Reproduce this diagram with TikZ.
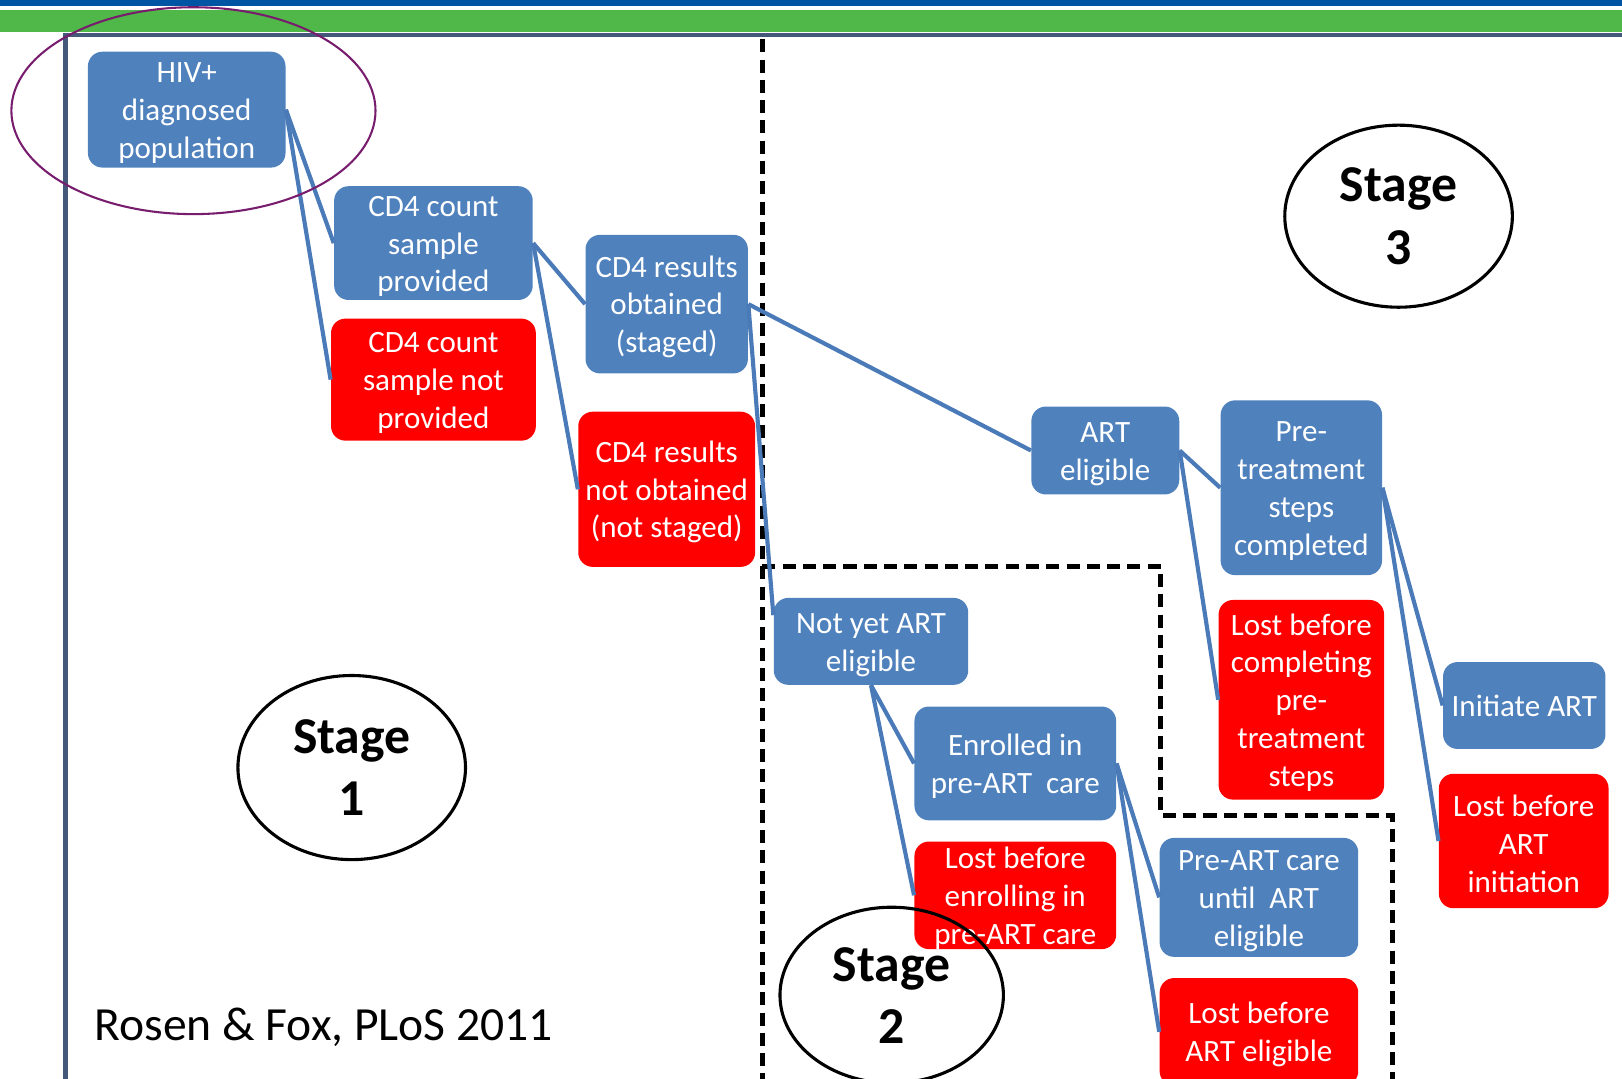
\documentclass[tikz,border=0pt]{standalone}
\usepackage{fontspec}
\setmainfont{Carlito}
\usetikzlibrary{calc,shapes.geometric}
\definecolor{barblue}{RGB}{0,84,164}
\definecolor{bargreen}{RGB}{80,184,72}
\definecolor{framec}{RGB}{68,89,122}
\definecolor{boxblue}{RGB}{79,129,189}
\definecolor{boxred}{RGB}{255,0,0}
\definecolor{linkblue}{RGB}{74,122,184}
\definecolor{ringpurple}{RGB}{120,28,110}
% taller first line so the box text sits a little lower
\newcommand{\boxstrut}{\rule{0pt}{13pt}}
\begin{document}
\begin{tikzpicture}[x=0.5pt,y=-0.5pt,
  box/.style={rounded corners=7pt, align=center, text=white, inner sep=0pt,
    font=\fontsize{15}{18.3}\selectfont},
  bluebox/.style={box, fill=boxblue},
  redbox/.style={box, fill=boxred},
  link/.style={draw=linkblue, line width=2pt},
  sep/.style={draw=black, line width=2.4pt, dash pattern=on 6.3pt off 3.5pt},
  stagering/.style={ellipse, draw=black, line width=1.5pt, inner sep=0pt, align=center,
    font=\fontsize{25}{30}\selectfont\bfseries}
]
\useasboundingbox (0,0) rectangle (1568,1043);
\clip (0,0) rectangle (1568,1043);

% header bars and frame
\fill[barblue] (0,0) rectangle (1568,5.5);
\fill[bargreen] (0,9.5) rectangle (1568,31);
\draw[framec, line width=2.2pt] (63.5,1050) -- (63.5,34) -- (1568,34);

% stage separators
\draw[sep] (737,38) -- (737,1050);
\draw[sep] (737,548) -- (1122,548) -- (1122,788) -- (1346,788) -- (1346,1050);

% stage 1 boxes
\node[bluebox, minimum width=95.5pt, minimum height=56pt] (hiv) at (180.5,106) {\boxstrut HIV+\\diagnosed\\population};
\node[bluebox, minimum width=96pt, minimum height=55pt] (cs) at (419,235) {\boxstrut CD4 count\\sample\\provided};
\node[redbox, minimum width=99pt, minimum height=59pt] (cns) at (419,367) {\boxstrut CD4 count\\sample not\\provided};
\node[bluebox, minimum width=78.5pt, minimum height=67pt] (ro) at (644.5,294) {\boxstrut CD4 results\\obtained\\(staged)};
\node[redbox, minimum width=85.5pt, minimum height=75pt] (rno) at (644.5,473) {\boxstrut CD4 results\\not obtained\\(not staged)};

% stage 3 boxes
\node[bluebox, minimum width=71.5pt, minimum height=42.5pt] (arte) at (1068.5,435.5) {\boxstrut ART\\eligible};
\node[bluebox, minimum width=78pt, minimum height=84.5pt] (ptc) at (1258,471.5) {\boxstrut Pre-\\treatment\\steps\\completed};
\node[redbox, minimum width=80pt, minimum height=96.5pt] (lbc) at (1258,676.5) {\boxstrut Lost before\\completing\\pre-\\treatment\\steps};
\node[bluebox, minimum width=78.5pt, minimum height=42pt] (ini) at (1473.5,682) {Initiate ART};
\node[redbox, minimum width=82pt, minimum height=65pt] (lbi) at (1473,813) {\boxstrut Lost before\\ART\\initiation};

% stage 2 boxes
\node[bluebox, minimum width=94pt, minimum height=42pt] (noty) at (842,620) {\boxstrut Not yet ART\\eligible};
\node[bluebox, minimum width=97.5pt, minimum height=55pt] (enr) at (981.5,738) {\boxstrut Enrolled in\\pre-ART\ \ care};
\node[redbox, minimum width=97.5pt, minimum height=50.5pt] (lbe) at (981.5,865.5) {\boxstrut Lost before\\enrolling in\\pre-ART care};
\node[bluebox, minimum width=96pt, minimum height=57.5pt] (pac) at (1217,867.5) {\boxstrut Pre-ART care\\until\ \ ART\\eligible};
\node[redbox, minimum width=96pt, minimum height=52pt] (lbae) at (1217,997.5) {\boxstrut Lost before\\ART eligible};

% branching connectors
\draw[link] (hiv.east) -- (cs.west);
\draw[link] (hiv.east) -- (cns.west);
\draw[link] (cs.east) -- (ro.west);
\draw[link] (cs.east) -- (rno.west);
\draw[link] (ro.east) -- (arte.west);
\draw[link] (ro.east) -- (noty.165);
\draw[link] (arte.east) -- (ptc.west);
\draw[link] (arte.east) -- (lbc.west);
\draw[link] (ptc.east) -- (ini.west);
\draw[link] (ptc.east) -- (lbi.west);
\draw[link] (noty.south) -- (enr.west);
\draw[link] (noty.south) -- (lbe.west);
\draw[link] (enr.east) -- (pac.west);
\draw[link] (enr.east) -- (lbae.west);

% stage markers
\node[stagering, minimum width=110pt, minimum height=89pt] (s1) at (340,742) {Stage\\1};
\node[stagering, minimum width=108pt, minimum height=85pt] (s2) at (862,962) {Stage\\2};
\node[stagering, minimum width=110pt, minimum height=88pt] (s3) at (1352,209) {Stage\\3};

% highlight ring round the starting population
\draw[ringpurple, line width=1pt] (187,107) ellipse [x radius=88pt, y radius=50pt];

% citation
\node[font=\fontsize{23}{27}\selectfont] (cite) at (313,993) {Rosen \& Fox, PLoS 2011};
\end{tikzpicture}
\end{document}
